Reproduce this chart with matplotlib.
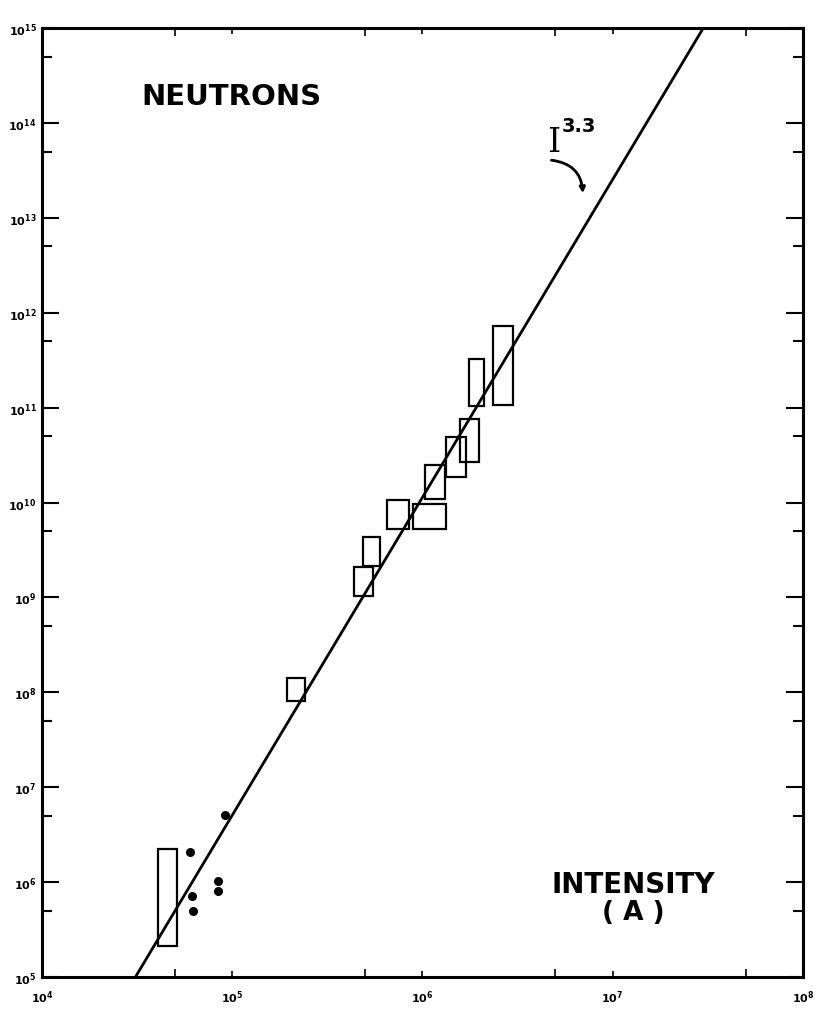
import numpy as np
import matplotlib
matplotlib.use("Agg")
import matplotlib.pyplot as plt
from matplotlib.patches import Rectangle, FancyArrowPatch
from matplotlib.ticker import FixedLocator, NullFormatter

# error boxes: (x_low, x_high, y_low, y_high), in log10 units
box_logx_lo = [4.608, 5.289, 5.640, 5.689, 5.815, 5.952, 6.013, 6.124, 6.197, 6.246, 6.369]
box_logx_hi = [4.708, 5.382, 5.741, 5.777, 5.931, 6.124, 6.118, 6.227, 6.299, 6.325, 6.477]
box_logy_lo = [5.330, 7.912, 9.018, 9.334, 9.721, 9.721, 10.037, 10.272, 10.424, 11.014, 11.027]
box_logy_hi = [6.349, 8.147, 9.317, 9.633, 10.026, 9.984, 10.395, 10.687, 10.880, 11.512, 11.857]

# single points (dots)
dot_logx = [4.778, 4.787, 4.792, 4.923, 4.923, 4.962]
dot_logy = [6.314, 5.857, 5.699, 6.015, 5.909, 6.710]

# fitted power law, labelled I^3.3 (drawn slope)
slope = 3.35
anchor_x = 3.1e4
anchor_y = 1e5

fig = plt.figure(figsize=(8.26, 10.12), dpi=100)
ax = fig.add_axes([0.0508, 0.0336, 0.9212, 0.9377])
ax.set_xscale("log")
ax.set_yscale("log")
ax.set_xlim(1e4, 1e8)
ax.set_ylim(1e5, 1e15)

# line
xl = np.logspace(4, 8, 200)
yl = anchor_y * (xl / anchor_x) ** slope
ax.plot(xl, yl, color="black", lw=2.0)

# boxes
for x0, x1, y0, y1 in zip(box_logx_lo, box_logx_hi, box_logy_lo, box_logy_hi):
    r = Rectangle((10 ** x0, 10 ** y0), 10 ** x1 - 10 ** x0, 10 ** y1 - 10 ** y0,
                  fill=False, ec="black", lw=1.6)
    ax.add_patch(r)

ax.scatter(10 ** np.array(dot_logx), 10 ** np.array(dot_logy), s=30, color="black", zorder=3)

# ticks
xmaj = [10.0 ** k for k in range(4, 9)]
ymaj = [10.0 ** k for k in range(5, 16)]
ax.xaxis.set_major_locator(FixedLocator(xmaj))
ax.yaxis.set_major_locator(FixedLocator(ymaj))
ax.xaxis.set_minor_locator(FixedLocator([5 * 10.0 ** k for k in range(4, 8)]))
ax.yaxis.set_minor_locator(FixedLocator([5 * 10.0 ** k for k in range(5, 15)]))
ax.xaxis.set_minor_formatter(NullFormatter())
ax.yaxis.set_minor_formatter(NullFormatter())
ax.set_xticklabels([r"$\mathbf{10^{%d}}$" % k for k in range(4, 9)])
ax.set_yticklabels([r"$\mathbf{10^{%d}}$" % k for k in range(5, 16)])
ax.tick_params(axis="y", which="major", direction="in", length=12, width=1.5,
               left=True, right=True, labelsize=8, pad=4)
ax.tick_params(axis="y", which="minor", direction="in", length=7, width=1.5,
               left=True, right=True)
ax.tick_params(axis="x", which="major", direction="in", length=4, width=1.2,
               bottom=True, top=True, labelsize=8, pad=8)
ax.tick_params(axis="x", which="minor", direction="in", length=6, width=1.2,
               bottom=True, top=True)
for s in ax.spines.values():
    s.set_linewidth(2.2)

# labels
ax.text(0.131, 0.928, "NEUTRONS", transform=ax.transAxes, fontsize=21,
        fontweight="bold", ha="left", va="center", family="DejaVu Sans")
ax.text(0.664, 0.870, r"I", transform=ax.transAxes, fontsize=24,
        ha="left", va="baseline", family="DejaVu Serif")
ax.text(0.683, 0.891, "3.3", transform=ax.transAxes, fontsize=14,
        fontweight="bold", ha="left", va="baseline")
arr = FancyArrowPatch((0.666, 0.861), (0.711, 0.823), transform=ax.transAxes,
                      connectionstyle="arc3,rad=-0.45", arrowstyle="-|>",
                      mutation_scale=8, lw=2.0, color="black")
ax.add_patch(arr)
ax.text(0.777, 0.098, "INTENSITY", transform=ax.transAxes, fontsize=20,
        fontweight="bold", ha="center", va="center")
ax.text(0.777, 0.068, "( A )", transform=ax.transAxes, fontsize=19,
        fontweight="bold", ha="center", va="center")

fig.savefig("out.png", dpi=100)
